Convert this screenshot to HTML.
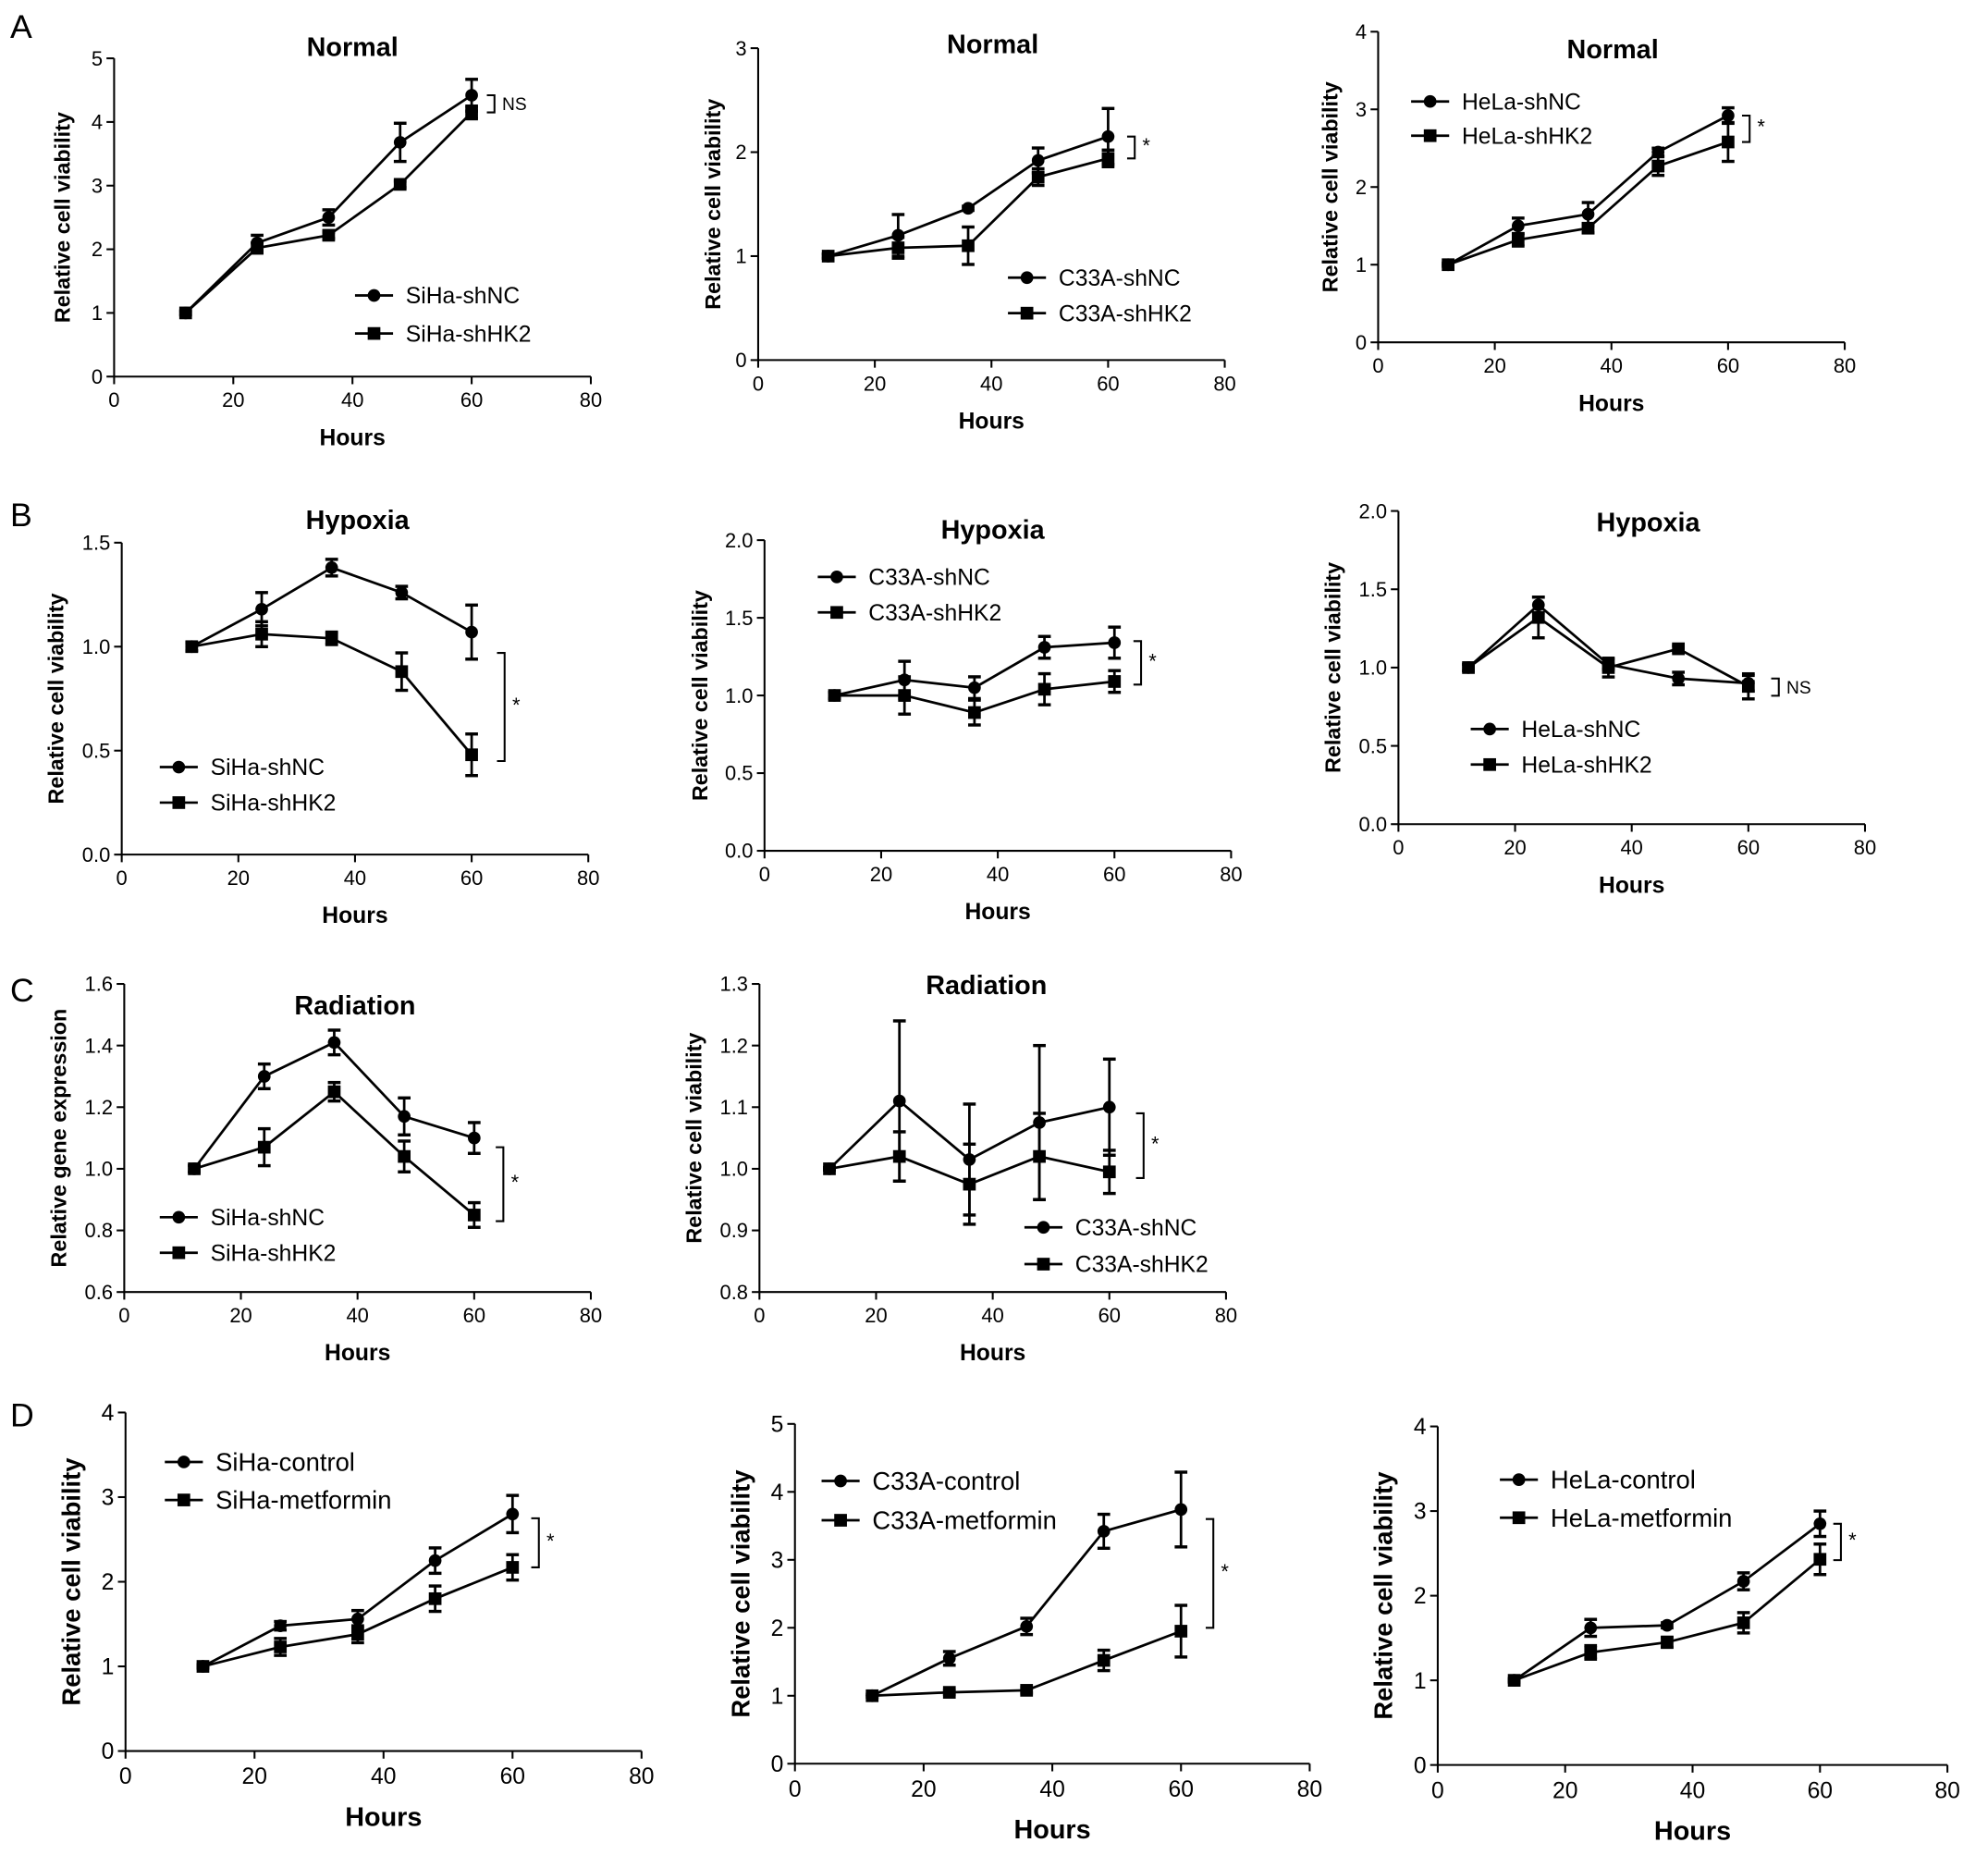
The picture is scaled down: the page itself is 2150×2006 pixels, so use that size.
<!DOCTYPE html>
<html><head><meta charset="utf-8"><style>
html,body{margin:0;padding:0;background:#fff;}
svg{display:block;font-family:"Liberation Sans",Arial,sans-serif;}
</style></head><body>
<svg id="fig" width="2150" height="2006" viewBox="0 0 1568 1463" xmlns="http://www.w3.org/2000/svg"></svg>
<script>
const hours = [12, 24, 36, 48, 60];
const xTicks = [0, 20, 40, 60, 80];
// Panel A
const a1_nc = [1, 2.1, 2.5, 3.68, 4.42], a1_nc_err = [0.03, 0.12, 0.12, 0.3, 0.25];
const a1_hk = [1, 2.02, 2.22, 3.02, 4.15], a1_hk_err = [0.03, 0.08, 0.05, 0.05, 0.1];
const a2_nc = [1, 1.2, 1.46, 1.92, 2.15], a2_nc_err = [0.02, 0.2, 0.02, 0.12, 0.27];
const a2_hk = [1, 1.08, 1.1, 1.76, 1.94], a2_hk_err = [0.02, 0.1, 0.18, 0.08, 0.08];
const a3_nc = [1, 1.5, 1.65, 2.45, 2.92], a3_nc_err = [0.02, 0.1, 0.15, 0.05, 0.1];
const a3_hk = [1, 1.32, 1.47, 2.27, 2.58], a3_hk_err = [0.02, 0.08, 0.06, 0.12, 0.25];
// Panel B
const b1_nc = [1, 1.18, 1.38, 1.26, 1.07], b1_nc_err = [0.02, 0.08, 0.04, 0.03, 0.13];
const b1_hk = [1, 1.06, 1.04, 0.88, 0.48], b1_hk_err = [0.02, 0.06, 0.03, 0.09, 0.1];
const b2_nc = [1, 1.1, 1.05, 1.31, 1.34], b2_nc_err = [0.02, 0.12, 0.07, 0.07, 0.1];
const b2_hk = [1, 1.0, 0.89, 1.04, 1.09], b2_hk_err = [0.02, 0.12, 0.08, 0.1, 0.07];
const b3_nc = [1, 1.4, 1.02, 0.93, 0.9], b3_nc_err = [0.02, 0.05, 0.03, 0.04, 0.05];
const b3_hk = [1, 1.32, 1.0, 1.12, 0.88], b3_hk_err = [0.02, 0.13, 0.06, 0.02, 0.08];
// Panel C
const c1_nc = [1, 1.3, 1.41, 1.17, 1.1], c1_nc_err = [0.01, 0.04, 0.04, 0.06, 0.05];
const c1_hk = [1, 1.07, 1.25, 1.04, 0.85], c1_hk_err = [0.01, 0.06, 0.03, 0.05, 0.04];
const c2_nc = [1, 1.11, 1.015, 1.075, 1.1], c2_nc_err = [0.002, 0.13, 0.09, 0.125, 0.078];
const c2_hk = [1, 1.02, 0.975, 1.02, 0.995], c2_hk_err = [0.002, 0.04, 0.065, 0.07, 0.035];
// Panel D
const d1_nc = [1, 1.48, 1.56, 2.25, 2.8], d1_nc_err = [0.02, 0.05, 0.1, 0.15, 0.22];
const d1_hk = [1, 1.23, 1.38, 1.8, 2.17], d1_hk_err = [0.02, 0.1, 0.1, 0.15, 0.15];
const d2_nc = [1, 1.55, 2.02, 3.42, 3.74], d2_nc_err = [0.02, 0.1, 0.12, 0.25, 0.55];
const d2_hk = [1, 1.05, 1.08, 1.52, 1.95], d2_hk_err = [0.02, 0.03, 0.04, 0.15, 0.38];
const d3_nc = [1, 1.62, 1.65, 2.17, 2.85], d3_nc_err = [0.02, 0.1, 0.03, 0.1, 0.15];
const d3_hk = [1, 1.33, 1.45, 1.68, 2.43], d3_hk_err = [0.02, 0.08, 0.06, 0.12, 0.18];

const yTicksA1 = ["0","1","2","3","4","5"], yTicksA2 = ["0","1","2","3"], yTicksA3 = ["0","1","2","3","4"];
const yTicksB = ["0.0","0.5","1.0","1.5"], yTicksB2 = ["0.0","0.5","1.0","1.5","2.0"];
const yTicksC1 = ["0.6","0.8","1.0","1.2","1.4","1.6"], yTicksC2 = ["0.8","0.9","1.0","1.1","1.2","1.3"];
const yTicksD1 = ["0","1","2","3","4"], yTicksD2 = ["0","1","2","3","4","5"];

const svg = document.getElementById('fig');
const NS = 'http://www.w3.org/2000/svg';
function mk(tag, attrs, parent, text) {
  const e = document.createElementNS(NS, tag);
  for (const k in attrs) e.setAttribute(k, attrs[k]);
  if (text !== undefined) e.textContent = text;
  (parent || svg).appendChild(e);
  return e;
}

function panel(p) {
  const g = mk('g', {});
  
  
  const ymin = parseFloat(p.yt[0]), ymax = parseFloat(p.yt[p.yt.length - 1]);
  const X = v => p.x0 + (v / 80) * (p.x1 - p.x0);
  const Y = v => p.y0 - (v - ymin) / (ymax - ymin) * (p.y0 - p.y1);
  const fs = p.fs || 16, lfs = p.lfs || 18;
  const ya = mk('line', {x1: p.x0, y1: p.y0, x2: p.x0, y2: p.y1, stroke: '#000', 'stroke-width': 1.5}, g);
   
  const xa = mk('line', {x1: p.x0, y1: p.y0, x2: p.x1, y2: p.y0, stroke: '#000', 'stroke-width': 1.5}, g);
   
  p.yt.forEach(t => {
    const v = parseFloat(t), y = Y(v);
    mk('line', {x1: p.x0 - 6, y1: y, x2: p.x0, y2: y, stroke: '#000', 'stroke-width': 1.5}, g);
    const tl = mk('text', {x: p.x0 - 9, y: y + fs * 0.35, 'text-anchor': 'end', 'font-size': fs}, g, t);
     
  });
  xTicks.forEach(t => {
    const x = X(t);
    mk('line', {x1: x, y1: p.y0, x2: x, y2: p.y0 + 6, stroke: '#000', 'stroke-width': 1.5}, g);
    const tl = mk('text', {x: x, y: p.y0 + 8 + fs, 'text-anchor': 'middle', 'font-size': fs}, g, t);
     
  });
  const xl = mk('text', {x: (p.x0 + p.x1) / 2, y: p.y0 + 14 + fs + lfs + 6, 'text-anchor': 'middle', 'font-size': lfs, 'font-weight': 'bold'}, g, 'Hours');
   
  const ym = (p.y0 + p.y1) / 2;
  const yl = mk('text', {x: p.ylx, y: ym, 'text-anchor': 'middle', 'font-size': lfs - 1, 'font-weight': 'bold', transform: `rotate(-90 ${p.ylx} ${ym})`}, g, p.ylabel || 'Relative cell viability');
   
  if (p.title) {
    const tt = mk('text', {x: p.tx, y: p.ty, 'text-anchor': 'middle', 'font-size': 21, 'font-weight': 'bold'}, g, p.title);
     
  }
  [[p.nc, p.ncE, 'c'], [p.hk, p.hkE, 's']].forEach(([vals, errs, m]) => {
    const sg = mk('g', {}, g);
    
    
    const pts = hours.map((h, i) => X(h) + ',' + Y(vals[i])).join(' ');
    mk('polyline', {points: pts, fill: 'none', stroke: '#000', 'stroke-width': 2}, sg);
    hours.forEach((h, i) => {
      const x = X(h), yt = Y(vals[i] + errs[i]), yb = Y(vals[i] - errs[i]);
      mk('line', {x1: x, y1: yt, x2: x, y2: yb, stroke: '#000', 'stroke-width': 2}, sg);
      mk('line', {x1: x - 5, y1: yt, x2: x + 5, y2: yt, stroke: '#000', 'stroke-width': 2.5}, sg);
      mk('line', {x1: x - 5, y1: yb, x2: x + 5, y2: yb, stroke: '#000', 'stroke-width': 2.5}, sg);
      let mkEl;
      if (m === 'c') mkEl = mk('circle', {cx: x, cy: Y(vals[i]), r: 5, fill: '#000'}, sg);
      else mkEl = mk('rect', {x: x - 5, y: Y(vals[i]) - 5, width: 10, height: 10, fill: '#000'}, sg);
      
      
    });
  });
  const lg = mk('g', {}, g);
  
  
  const lfs2 = p.legfs || 18;
  [[p.leg[0], 'c'], [p.leg[1], 's']].forEach(([txt, m], i) => {
    const ly = p.ly + i * p.lgap, lx = p.lx;
    const eg = mk('g', {}, lg);
    
    
    mk('line', {x1: lx, y1: ly, x2: lx + 30, y2: ly, stroke: '#000', 'stroke-width': 2}, eg);
    if (m === 'c') mk('circle', {cx: lx + 15, cy: ly, r: 5, fill: '#000'}, eg);
    else mk('rect', {x: lx + 10, y: ly - 5, width: 10, height: 10, fill: '#000'}, eg);
    mk('text', {x: lx + 40, y: ly + lfs2 * 0.35, 'font-size': lfs2}, eg, txt);
  });
  const bg = mk('g', {}, g);
  
  
  const bt = Y(p.br[0]), bb = Y(p.br[1]), bx = p.bx;
  mk('polyline', {points: `${bx - 6},${bt} ${bx},${bt} ${bx},${bb} ${bx - 6},${bb}`, fill: 'none', stroke: '#000', 'stroke-width': 1.5}, bg);
  mk('text', {x: bx + 6, y: (bt + bb) / 2 + (p.sig === '*' ? 4 : 5), 'font-size': p.sig === '*' ? 16 : 14}, bg, p.sig);
}

const L1 = ['SiHa-shNC', 'SiHa-shHK2'], L2 = ['C33A-shNC', 'C33A-shHK2'], L3 = ['HeLa-shNC', 'HeLa-shHK2'];
panel({name:'panel-a-siha-normal', x0:90, x1:466, y0:297, y1:46, yt:yTicksA1, nc:a1_nc, ncE:a1_nc_err, hk:a1_hk, hkE:a1_hk_err, title:'Normal', tx:278, ty:44, ylx:55, leg:L1, lx:280, ly:233, lgap:30, br:[4.42,4.15], bx:390, sig:'NS'});
panel({name:'panel-a-c33a-normal', x0:598, x1:966, y0:284, y1:38, yt:yTicksA2, nc:a2_nc, ncE:a2_nc_err, hk:a2_hk, hkE:a2_hk_err, title:'Normal', tx:783, ty:42, ylx:568, leg:L2, lx:795, ly:219, lgap:28, br:[2.15,1.94], bx:895, sig:'*'});
panel({name:'panel-a-hela-normal', x0:1087, x1:1455, y0:270, y1:25, yt:yTicksA3, nc:a3_nc, ncE:a3_nc_err, hk:a3_hk, hkE:a3_hk_err, title:'Normal', tx:1272, ty:46, ylx:1055, leg:L3, lx:1113, ly:80, lgap:27, br:[2.92,2.58], bx:1380, sig:'*'});
panel({name:'panel-b-siha-hypoxia', x0:96, x1:464, y0:674, y1:428, yt:yTicksB, nc:b1_nc, ncE:b1_nc_err, hk:b1_hk, hkE:b1_hk_err, title:'Hypoxia', tx:282, ty:417, ylx:50, leg:L1, lx:126, ly:605, lgap:28, br:[0.97,0.45], bx:398, sig:'*'});
panel({name:'panel-b-c33a-hypoxia', x0:603, x1:971, y0:671, y1:426, yt:yTicksB2, nc:b2_nc, ncE:b2_nc_err, hk:b2_hk, hkE:b2_hk_err, title:'Hypoxia', tx:783, ty:425, ylx:558, leg:L2, lx:645, ly:455, lgap:28, br:[1.35,1.07], bx:900, sig:'*'});
panel({name:'panel-b-hela-hypoxia', x0:1103, x1:1471, y0:650, y1:403, yt:yTicksB2, nc:b3_nc, ncE:b3_nc_err, hk:b3_hk, hkE:b3_hk_err, title:'Hypoxia', tx:1300, ty:419, ylx:1057, leg:L3, lx:1160, ly:575, lgap:28, br:[0.93,0.82], bx:1403, sig:'NS'});
panel({name:'panel-c-siha-radiation', x0:98, x1:466, y0:1019, y1:776, yt:yTicksC1, nc:c1_nc, ncE:c1_nc_err, hk:c1_hk, hkE:c1_hk_err, title:'Radiation', tx:280, ty:800, ylx:52, ylabel:'Relative gene expression', leg:L1, lx:126, ly:960, lgap:28, br:[1.07,0.83], bx:397, sig:'*'});
panel({name:'panel-c-c33a-radiation', x0:599, x1:967, y0:1019, y1:776, yt:yTicksC2, nc:c2_nc, ncE:c2_nc_err, hk:c2_hk, hkE:c2_hk_err, title:'Radiation', tx:778, ty:784, ylx:553, leg:L2, lx:808, ly:968, lgap:29, br:[1.09,0.985], bx:902, sig:'*'});
panel({name:'panel-d-siha-metformin', x0:99, x1:506, y0:1381, y1:1114, yt:yTicksD1, nc:d1_nc, ncE:d1_nc_err, hk:d1_hk, hkE:d1_hk_err, ylx:63, fs:18, lfs:21, legfs:20, leg:['SiHa-control','SiHa-metformin'], lx:130, ly:1153, lgap:30, br:[2.75,2.17], bx:425, sig:'*'});
panel({name:'panel-d-c33a-metformin', x0:627, x1:1033, y0:1391, y1:1123, yt:yTicksD2, nc:d2_nc, ncE:d2_nc_err, hk:d2_hk, hkE:d2_hk_err, ylx:591, fs:18, lfs:21, legfs:20, leg:['C33A-control','C33A-metformin'], lx:648, ly:1168, lgap:31, br:[3.6,2.0], bx:957, sig:'*'});
panel({name:'panel-d-hela-metformin', x0:1134, x1:1536, y0:1392, y1:1125, yt:yTicksD1, nc:d3_nc, ncE:d3_nc_err, hk:d3_hk, hkE:d3_hk_err, ylx:1098, fs:18, lfs:21, legfs:20, leg:['HeLa-control','HeLa-metformin'], lx:1183, ly:1167, lgap:30, br:[2.85,2.42], bx:1452, sig:'*'});

[['A', 8, 30], ['B', 8, 415], ['C', 8, 790], ['D', 8, 1125]].forEach(([t, x, y]) => {
  const e = mk('text', {x: x, y: y, 'font-size': 26}, svg, t);
  
  
});
</script>
</body></html>
